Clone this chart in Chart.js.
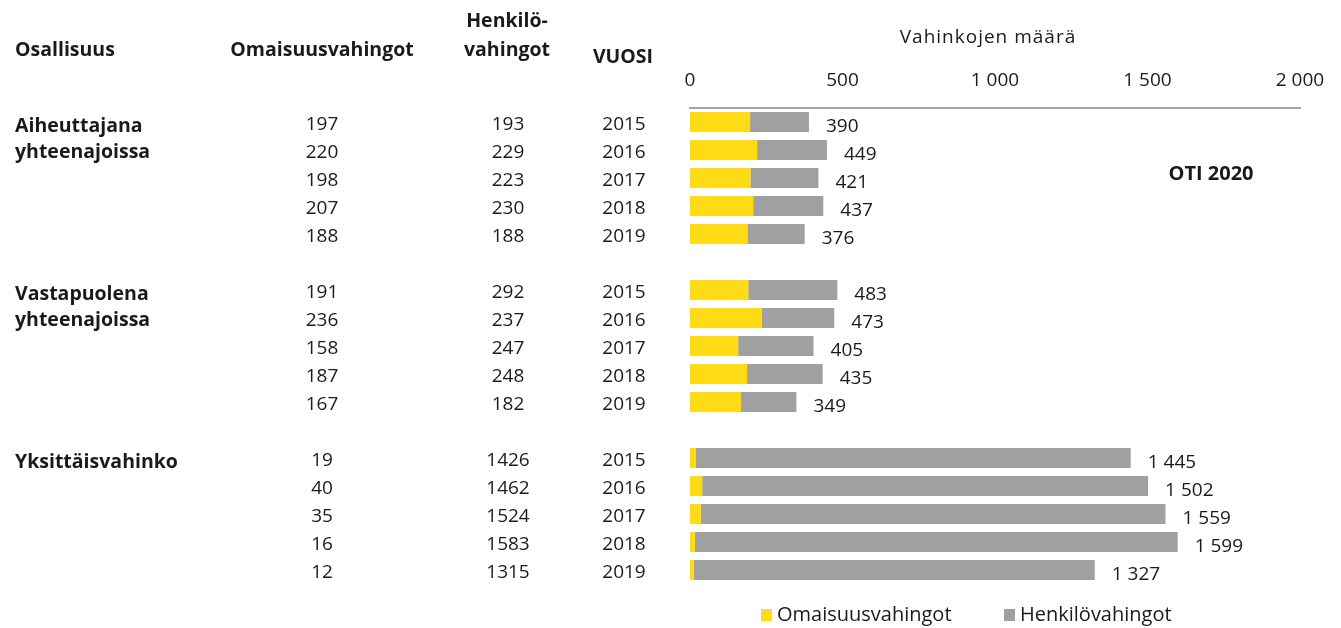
<!DOCTYPE html>
<html>
<head>
<meta charset="utf-8">
<script src="https://cdn.jsdelivr.net/npm/chart.js@4.4.1/dist/chart.umd.min.js"></script>
<style>
  html, body { margin: 0; padding: 0; background: #fff; }
  #wrap { width: 1341px; height: 628px; }
</style>
</head>
<body>
<div id="wrap"><canvas id="c" width="1341" height="628"></canvas></div>
<script>
// Ryhmät (osallisuus) ja vuodet
const groups = [['Aiheuttajana', 'yhteenajoissa'], ['Vastapuolena', 'yhteenajoissa'], ['Yksittäisvahinko']];
const years = [2015, 2016, 2017, 2018, 2019];

// Vahingot ryhmittäin, vuodet 2015-2019
const omaisuusAiheuttaja = [197, 220, 198, 207, 188];
const henkiloAiheuttaja = [193, 229, 223, 230, 188];
const omaisuusVastapuoli = [191, 236, 158, 187, 167];
const henkiloVastapuoli = [292, 237, 247, 248, 182];
const omaisuusYksittais = [19, 40, 35, 16, 12];
const henkiloYksittais = [1426, 1462, 1524, 1583, 1315];

const xTicks = [0, 500, 1000, 1500, 2000];

const YELLOW = '#FFDB16';
const GREY = '#A0A0A1';
const TEXT = '#1a1a1a';
const FONT = '"Open Sans", "Noto Sans", sans-serif';

// rivit: 5 + tyhjä + 5 + tyhjä + 5
const omaisuusGroups = [omaisuusAiheuttaja, omaisuusVastapuoli, omaisuusYksittais];
const henkiloGroups = [henkiloAiheuttaja, henkiloVastapuoli, henkiloYksittais];
const labels = [], omaisuus = [], henkilo = [], rowYear = [], groupStart = [];
omaisuusGroups.forEach((g, gi) => {
    if (gi > 0) { labels.push(''); omaisuus.push(null); henkilo.push(null); rowYear.push(null); }
    groupStart.push(labels.length);
    years.forEach((y, i) => {
        labels.push(gi + '-' + y);
        omaisuus.push(g[i]);
        henkilo.push(henkiloGroups[gi][i]);
        rowYear.push(y);
    });
});

function fmt(n) {
    return String(n).replace(/\B(?=(\d{3})+(?!\d))/g, ' ');
}

// taulukko vasemmalle, summat ja selite
const tablePlugin = {
    id: 'tablePlugin',
    afterDraw(chart) {
        const ctx = chart.ctx;
        const ys = chart.scales.y, xs = chart.scales.x;
        ctx.save();
        ctx.fillStyle = TEXT;
        ctx.textBaseline = 'alphabetic';

        // otsikot
        ctx.font = 'bold 19.5px ' + FONT;
        ctx.textAlign = 'left';
        ctx.fillText('Osallisuus', 15, 56);
        ctx.textAlign = 'center';
        ctx.fillText('Omaisuusvahingot', 322, 56);
        ctx.fillText('Henkilö-', 507, 27);
        ctx.fillText('vahingot', 507, 56);
        ctx.fillText('VUOSI', 623, 63);

        ctx.font = '19px ' + FONT;
        ctx.letterSpacing = '1px';
        ctx.fillText('Vahinkojen määrä', (chart.chartArea.left + chart.chartArea.right) / 2 - 7, 43);
        ctx.letterSpacing = '0px';

        ctx.font = 'bold 20px ' + FONT;
        ctx.fillText('OTI 2020', 1211, 180);

        // ryhmien nimet
        ctx.font = 'bold 19.5px ' + FONT;
        ctx.textAlign = 'left';
        groups.forEach((lines, gi) => {
            const y0 = ys.getPixelForValue(groupStart[gi]);
            lines.forEach((t, li) => ctx.fillText(t, 15, y0 + 10 + li * 26));
        });

        // arvot
        ctx.font = '19px ' + FONT;
        ctx.textAlign = 'center';
        labels.forEach((l, i) => {
            if (rowYear[i] === null) return;
            const y = ys.getPixelForValue(i) + 8;
            ctx.fillText(String(omaisuus[i]), 322, y);
            ctx.fillText(String(henkilo[i]), 508, y);
            ctx.fillText(String(rowYear[i]), 624, y);
        });

        // summat palkkien perään
        ctx.textAlign = 'left';
        labels.forEach((l, i) => {
            if (rowYear[i] === null) return;
            const total = omaisuus[i] + henkilo[i];
            ctx.fillText(fmt(total), xs.getPixelForValue(total) + 17, ys.getPixelForValue(i) + 10);
        });

        // selite
        ctx.font = '20px ' + FONT;
        ctx.fillStyle = YELLOW;
        ctx.fillRect(761, 609, 11, 12);
        ctx.fillStyle = GREY;
        ctx.fillRect(1004, 609, 11, 12);
        ctx.fillStyle = TEXT;
        ctx.fillText('Omaisuusvahingot', 777, 621);
        ctx.fillText('Henkilövahingot', 1020, 621);
        ctx.restore();
    }
};

new Chart(document.getElementById('c'), {
    type: 'bar',
    data: {
        labels: labels,
        datasets: [{
            label: 'Omaisuusvahingot',
            data: omaisuus,
            backgroundColor: YELLOW,
            barPercentage: 0.714,
            categoryPercentage: 1
        }, {
            label: 'Henkilövahingot',
            data: henkilo,
            backgroundColor: GREY,
            barPercentage: 0.714,
            categoryPercentage: 1
        }]
    },
    options: {
        indexAxis: 'y',
        responsive: false,
        animation: false,
        layout: { padding: { left: 690, right: 41, top: 0, bottom: 44 } },
        plugins: { legend: { display: false }, tooltip: { enabled: false } },
        scales: {
            x: {
                position: 'top',
                stacked: true,
                min: 0,
                max: 2000,
                afterFit(scale) { scale.height = 108; },
                afterBuildTicks(scale) { scale.ticks = xTicks.map(v => ({ value: v })); },
                grid: { display: false, drawTicks: false },
                border: { display: true, color: '#A6A6A6', width: 2 },
                ticks: {
                    padding: 16,
                    color: TEXT,
                    font: { family: FONT, size: 19 },
                    callback: (v) => fmt(v)
                }
            },
            y: {
                stacked: true,
                display: false
            }
        }
    },
    plugins: [tablePlugin]
});
</script>
</body>
</html>
